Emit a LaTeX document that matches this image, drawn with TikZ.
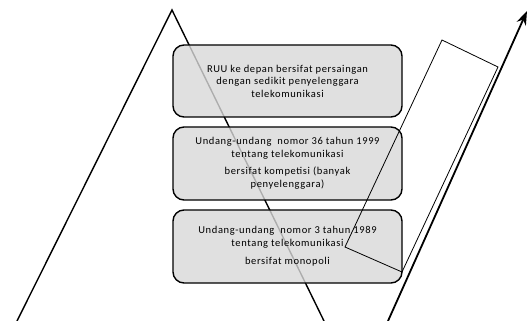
\documentclass[tikz,border=0pt]{standalone}
\usepackage{fontspec}
\setmainfont{Carlito}
\usetikzlibrary{arrows.meta}
\tikzset{
  law/.style={draw=black, line width=1.4pt, fill={rgb,255:red,217;green,217;blue,217},
    fill opacity=0.8, text opacity=1, rounded corners=11pt,
    minimum width=229pt, minimum height=72pt, inner sep=0pt,
    align=center, font=\fontsize{10.5}{12.5}\selectfont\addfontfeatures{LetterSpace=6}},
  tri/.style={line width=1.4pt, black},
  frame/.style={line width=0.8pt, black},
  trend/.style={line width=1.8pt, black, -{Stealth[length=14pt,width=10pt]}}
}
\begin{document}
\begin{tikzpicture}[x=1pt,y=-1pt]
\useasboundingbox (0,0) rectangle (531,321);
\fill[white] (0,0) rectangle (531,321);
% triangle
\coordinate (apex) at (172,10);
\coordinate (bl) at (17,321);
\coordinate (br) at (324,321);
\draw[tri] (bl) -- (apex) -- (br);
% boxes
\node[law] (b1) at (287.5,81) {RUU ke depan bersifat persaingan\\dengan sedikit penyelenggara\\telekomunikasi};
\node[law, minimum height=73pt] (b2) at (287.5,163.5) {Undang-undang\ \ nomor 36 tahun 1999\\tentang telekomunikasi\\[5pt]bersifat kompetisi (banyak\\penyelenggara)};
\node[law, minimum height=73pt] (b3) at (287.5,246.5) {Undang-undang\ \ nomor 3 tahun 1989\\tentang telekomunikasi\\[6pt]bersifat monopoli};
% thin frame
\coordinate (f1) at (442,40);
\coordinate (f2) at (498,67);
\coordinate (f3) at (402,272);
\coordinate (f4) at (345,247);
\draw[frame] (f1) -- (f2) -- (f3) -- (f4) -- cycle;
% arrow
\coordinate (a0) at (388,321);
\coordinate (a1) at (527,11);
\draw[trend] (a0) -- (a1);
\end{tikzpicture}
\end{document}
